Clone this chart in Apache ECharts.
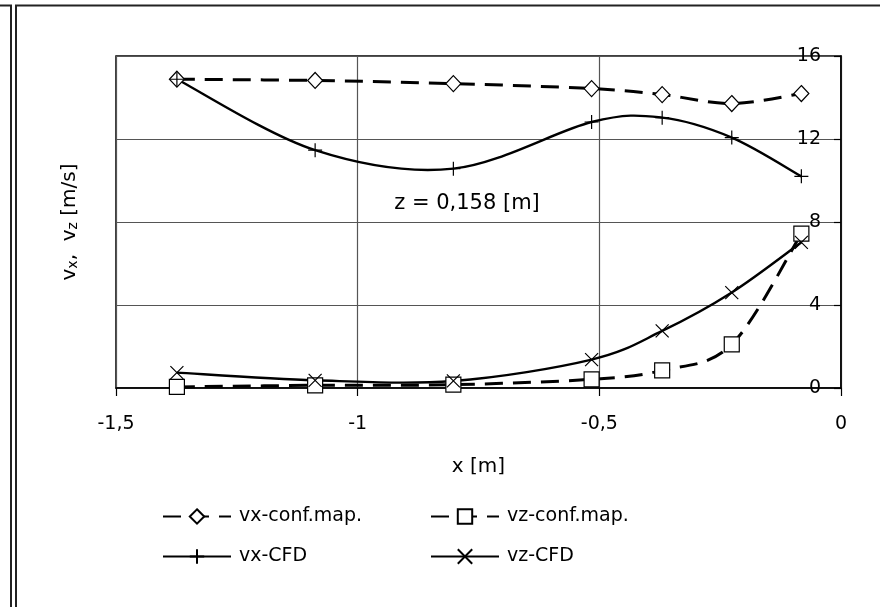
<!DOCTYPE html>
<html>
<head>
<meta charset="utf-8">
<script src="https://cdn.jsdelivr.net/npm/echarts@6/dist/echarts.min.js"></script>
<style>
  html, body { margin: 0; padding: 0; background: #fff; }
  #chart { width: 880px; height: 607px; }
</style>
</head>
<body>
<div id="chart"></div>
<script>
// x positions [m]
const xPos = [-1.374, -1.088, -0.802, -0.516, -0.370, -0.226, -0.082]
// velocities [m/s]
const vxConf = [14.88, 14.82, 14.67, 14.43, 14.14, 13.71, 14.19]
const vzConf = [0.05, 0.13, 0.16, 0.42, 0.85, 2.1, 7.44]
const vxCfd = [14.88, 11.46, 10.57, 12.82, 13.03, 12.07, 10.2]
const vzCfd = [0.74, 0.37, 0.34, 1.37, 2.75, 4.6, 7.02]

const xTicks = { min: -1.5, max: 0, interval: 0.5 }
const yTicks = { min: 0, max: 16, interval: 4 }

const font = 'DejaVu Sans'
const pair = ys => xPos.map((x, i) => [x, ys[i]])
const plusPath = 'path://M5 0L5 10M0 5L10 5'
const crossPath = 'path://M0 0L10 10M10 0L0 10'
const dash = [18, 10]

// markers + legend entry (line itself is drawn by the curve series below)
const markSeries = (name, ys, symbol, size, dashed) => ({
  name,
  type: 'line',
  data: pair(ys),
  symbol,
  symbolSize: size,
  animation: false,
  lineStyle: {
    color: '#000',
    width: dashed ? 3 : 2.4,
    type: dashed ? dash : 'solid',
    opacity: 0,
  },
  itemStyle: { color: '#fff', borderColor: '#000', borderWidth: 1.2 },
  z: 4,
})

// Excel-like smoothed line (catmull-rom through the projected points)
const curveSeries = (ys, dashed) => ({
  type: 'custom',
  data: pair(ys),
  silent: true,
  animation: false,
  z: dashed ? 2 : 3,
  renderItem: (params, api) => {
    if (params.dataIndex !== 0) return null
    const p = xPos.map((x, i) => api.coord([x, ys[i]]))
    const n = p.length
    let d = 'M' + p[0][0] + ' ' + p[0][1]
    for (let i = 0; i < n - 1; i++) {
      const p0 = p[Math.max(i - 1, 0)]
      const p1 = p[i]
      const p2 = p[i + 1]
      const p3 = p[Math.min(i + 2, n - 1)]
      const c1 = [p1[0] + (p2[0] - p0[0]) / 6, p1[1] + (p2[1] - p0[1]) / 6]
      const c2 = [p2[0] - (p3[0] - p1[0]) / 6, p2[1] - (p3[1] - p1[1]) / 6]
      d += ' C' + c1.join(' ') + ' ' + c2.join(' ') + ' ' + p2.join(' ')
    }
    return {
      type: 'path',
      shape: { pathData: d },
      style: {
        fill: null,
        stroke: '#000',
        lineWidth: dashed ? 3 : 2.4,
        lineDash: dashed ? dash : null,
      },
    }
  },
})

const legendItem = name => ({ name, lineStyle: { opacity: 1 } })

const chart = echarts.init(document.getElementById('chart'))
chart.setOption({
  backgroundColor: '#fff',
  textStyle: { fontFamily: font, color: '#000' },
  grid: {
    left: 116,
    right: 39,
    top: 56,
    bottom: 219,
    show: true,
    borderColor: '#000',
    borderWidth: 1.5,
  },
  xAxis: {
    type: 'value',
    min: xTicks.min,
    max: xTicks.max,
    interval: xTicks.interval,
    name: 'x [m]',
    nameLocation: 'middle',
    nameGap: 69,
    nameTextStyle: { fontSize: 20, color: '#000', fontFamily: font },
    axisLine: { onZero: false, lineStyle: { color: '#000', width: 1.5 } },
    axisTick: { show: true, length: 8, lineStyle: { color: '#000', width: 1.2 } },
    axisLabel: {
      fontSize: 19,
      color: '#000',
      fontFamily: font,
      margin: 27,
      formatter: v => String(v).replace('.', ','),
    },
    splitLine: { show: true, lineStyle: { color: '#555', width: 1.2 } },
  },
  yAxis: [
    {
      type: 'value',
      position: 'right',
      min: yTicks.min,
      max: yTicks.max,
      interval: yTicks.interval,
      axisLine: { show: true, onZero: false, lineStyle: { color: '#000', width: 1.5 } },
      axisTick: { show: true, inside: true, length: 7, lineStyle: { color: '#000', width: 1.2 } },
      axisLabel: { inside: true, margin: 20, fontSize: 19, color: '#000', fontFamily: font },
      splitLine: { show: true, lineStyle: { color: '#555', width: 1.2 } },
    },
    {
      // only carries the axis title on the left
      type: 'value',
      position: 'left',
      min: yTicks.min,
      max: yTicks.max,
      name: 'v{sub|x},  v{sub|z} [m/s]',
      nameLocation: 'middle',
      nameGap: 36,
      nameTextStyle: {
        fontSize: 20,
        color: '#000',
        fontFamily: font,
        rich: {
          sub: { fontSize: 14, verticalAlign: 'bottom', fontFamily: font, color: '#000' },
        },
      },
      axisLine: { show: false },
      axisTick: { show: false },
      axisLabel: { show: false },
      splitLine: { show: false },
    },
  ],
  legend: [
    {
      data: [legendItem('vx-conf.map.'), legendItem('vx-CFD')],
      orient: 'vertical',
      left: 162,
      top: 507,
      padding: 0,
      itemWidth: 68,
      itemHeight: 18,
      itemGap: 21,
      selectedMode: false,
      textStyle: { fontSize: 19, color: '#000', fontFamily: font, padding: [0, 0, 0, 3] },
    },
    {
      data: [legendItem('vz-conf.map.'), legendItem('vz-CFD')],
      orient: 'vertical',
      left: 430,
      top: 507,
      padding: 0,
      itemWidth: 68,
      itemHeight: 18,
      itemGap: 21,
      selectedMode: false,
      textStyle: { fontSize: 19, color: '#000', fontFamily: font, padding: [0, 0, 0, 3] },
    },
  ],
  graphic: [
    {
      type: 'text',
      x: 467,
      y: 204,
      style: {
        text: 'z = 0,158 [m]',
        fontSize: 21,
        fontFamily: font,
        fill: '#000',
        align: 'center',
        verticalAlign: 'middle',
      },
    },
    {
      type: 'polyline',
      shape: { points: [[0, 5.5], [11, 5.5], [11, 607]] },
      style: { stroke: '#222', lineWidth: 2, fill: null },
    },
    {
      type: 'polyline',
      shape: { points: [[16, 607], [16, 5.5], [880, 5.5]] },
      style: { stroke: '#222', lineWidth: 2, fill: null },
    },
  ],
  series: [
    curveSeries(vxConf, true),
    curveSeries(vzConf, true),
    curveSeries(vxCfd, false),
    curveSeries(vzCfd, false),
    markSeries('vx-conf.map.', vxConf, 'diamond', [15, 16], true),
    markSeries('vz-conf.map.', vzConf, 'rect', 15, true),
    markSeries('vx-CFD', vxCfd, plusPath, 14, false),
    markSeries('vz-CFD', vzCfd, crossPath, 13, false),
  ],
})
</script>
</body>
</html>
